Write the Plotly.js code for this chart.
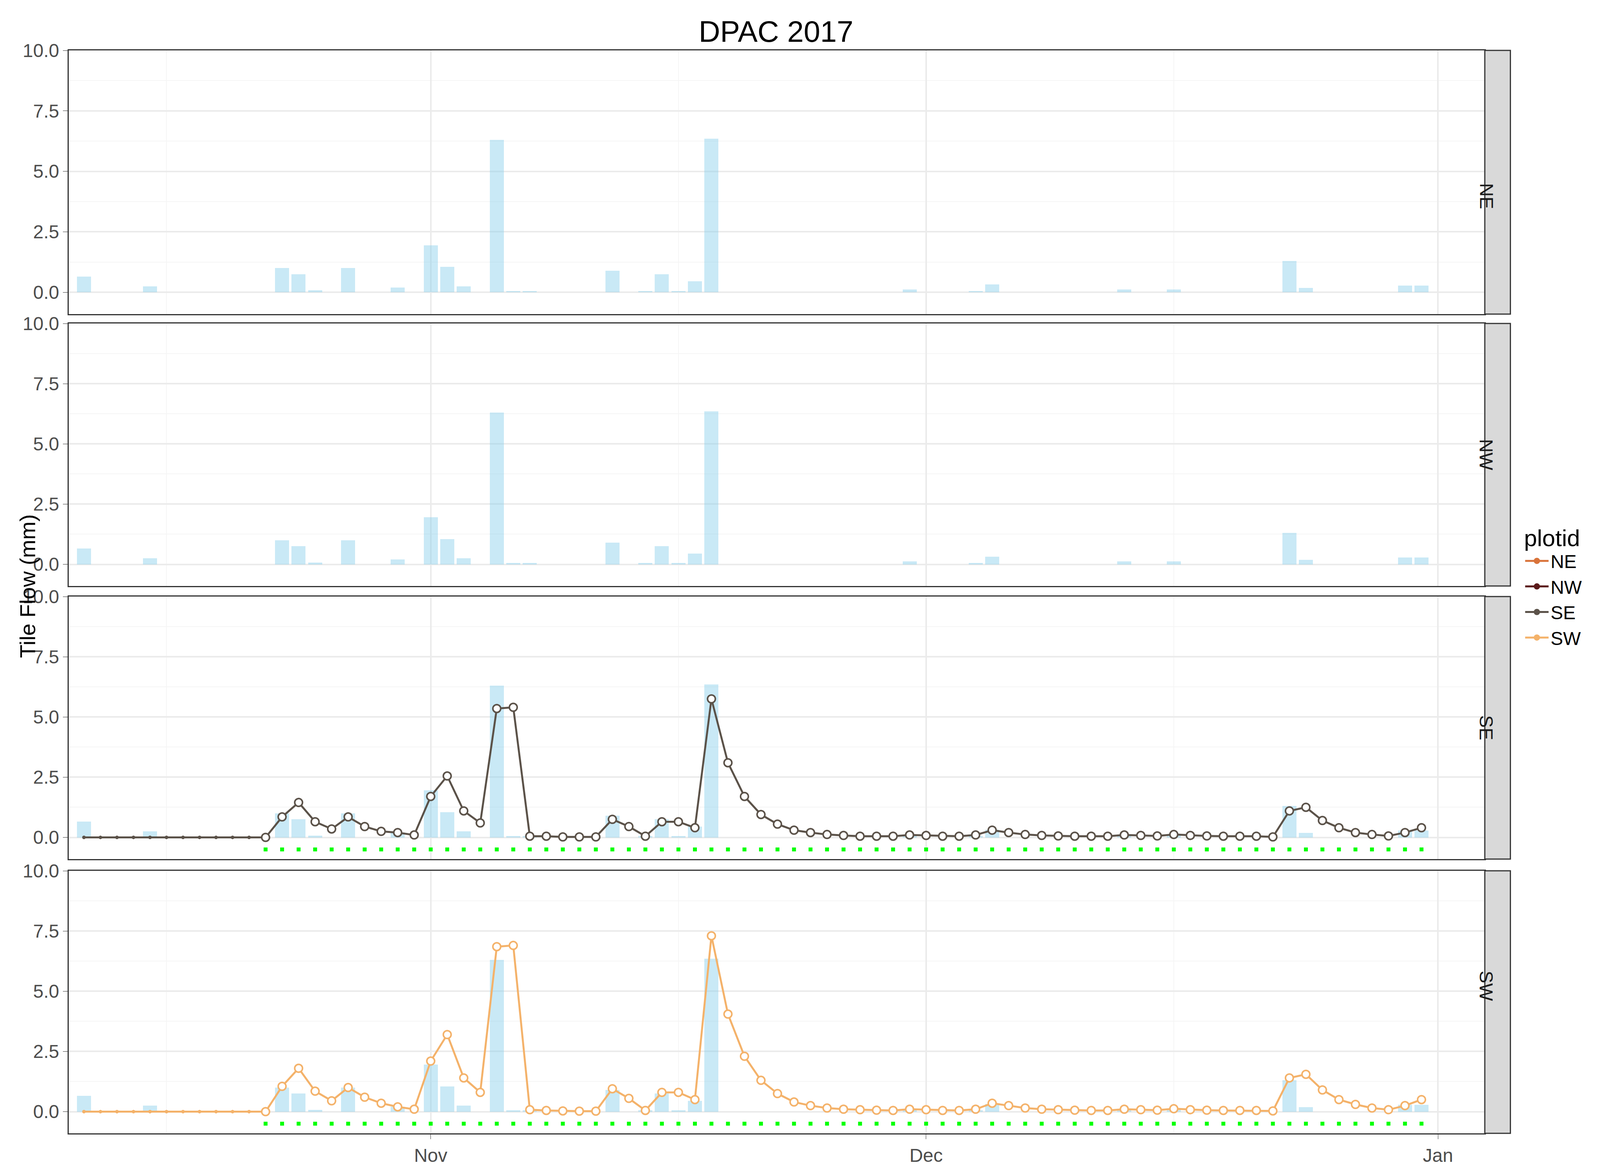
<!DOCTYPE html>
<html>
<head>
<meta charset="utf-8">
<script src="https://cdn.plot.ly/plotly-3.0.1.min.js"></script>
<style>html,body{margin:0;padding:0;overflow:hidden}#chart{width:100vw;height:100vh}</style>
</head>
<body>
<div id="chart"></div>
<script>
// rain bars (mm), same in every panel
const barDates = ["2017-10-11","2017-10-15","2017-10-23","2017-10-24","2017-10-25","2017-10-27","2017-10-30",
  "2017-11-01","2017-11-02","2017-11-03","2017-11-05","2017-11-06","2017-11-07","2017-11-12","2017-11-14",
  "2017-11-15","2017-11-16","2017-11-17","2017-11-18","2017-11-30","2017-12-04","2017-12-05","2017-12-13",
  "2017-12-16","2017-12-23","2017-12-24","2017-12-30","2017-12-31"];
const barValues = [0.65,0.25,1.0,0.75,0.08,1.0,0.2,1.95,1.05,0.25,6.3,0.05,0.05,0.9,0.05,
  0.75,0.05,0.45,6.35,0.12,0.05,0.32,0.12,0.12,1.3,0.18,0.28,0.28];

// daily dates Oct 11 - Dec 31
const days = [];
for (let m of [[10,11,31],[11,1,30],[12,1,31]]) {
  for (let d = m[1]; d <= m[2]; d++) days.push("2017-" + m[0] + "-" + String(d).padStart(2,"0"));
}

const seFlow = [0,0,0,0,0,0,0,0,0,0,0,0,
  0.85,1.45,0.65,0.35,0.85,0.45,0.25,0.2,0.1,
  1.7,2.55,1.1,0.6,5.35,5.4,0.05,0.05,0.02,0.02,0.02,0.75,0.45,0.05,0.65,0.65,0.4,5.75,3.1,1.7,0.95,0.55,0.3,0.2,0.12,0.08,0.05,0.05,0.05,0.1,
  0.08,0.05,0.05,0.1,0.3,0.2,0.12,0.08,0.06,0.05,0.05,0.05,0.1,0.08,0.06,0.12,0.08,0.06,0.05,0.05,0.05,0.02,
  1.1,1.25,0.7,0.4,0.2,0.12,0.06,0.2,0.4];
const swFlow = [0,0,0,0,0,0,0,0,0,0,0,0,
  1.05,1.8,0.85,0.45,1.0,0.6,0.35,0.2,0.1,
  2.1,3.2,1.4,0.8,6.85,6.9,0.08,0.05,0.03,0.02,0.02,0.95,0.55,0.05,0.8,0.8,0.5,7.3,4.05,2.3,1.3,0.75,0.4,0.25,0.15,0.1,0.08,0.06,0.05,0.1,
  0.08,0.05,0.05,0.1,0.35,0.25,0.15,0.1,0.08,0.06,0.05,0.05,0.1,0.08,0.06,0.12,0.08,0.06,0.05,0.05,0.05,0.03,
  1.4,1.55,0.9,0.5,0.3,0.15,0.08,0.25,0.5];
const flaggedStart = 11; // index of Oct 22
const flagDates = days.slice(flaggedStart);

const plotIds = ["NE","NW","SE","SW"];
const plotColors = ["#D9733A","#5A1A1A","#5B5249","#F4B26A"];

const traces = [];
const axes = ["","2","3","4"];
axes.forEach((a, i) => {
  traces.push({
    type: "bar", x: barDates, y: barValues, xaxis: "x" + a, yaxis: "y" + a,
    width: 0.85 * 86400000, marker: { color: "rgba(135,206,235,0.45)" },
    showlegend: false, hoverinfo: "skip"
  });
});

[[seFlow, 2, "3"], [swFlow, 3, "4"]].forEach(([vals, ci, a]) => {
  traces.push({
    x: days, y: vals, xaxis: "x" + a, yaxis: "y" + a, mode: "lines+markers",
    line: { color: plotColors[ci], width: 5 },
    marker: { color: plotColors[ci], size: 9 }, showlegend: false
  });
  traces.push({
    x: flagDates, y: vals.slice(flaggedStart), xaxis: "x" + a, yaxis: "y" + a, mode: "markers",
    marker: { color: "white", size: 20, line: { color: plotColors[ci], width: 4 } }, showlegend: false
  });
  traces.push({
    x: flagDates, y: flagDates.map(() => -0.5), xaxis: "x" + a, yaxis: "y" + a, mode: "markers",
    marker: { color: "#00FF00", size: 10, symbol: "square" }, showlegend: false
  });
});

plotIds.forEach((p, i) => {
  traces.push({
    x: [null], y: [null], mode: "lines+markers", name: p,
    line: { color: plotColors[i], width: 5 }, marker: { color: plotColors[i], size: 18 }
  });
});

const doms = [[0.732,0.957],[0.500,0.724],[0.267,0.491],[0.033,0.257]];
const xrange = ["2017-10-10 02:00","2018-01-03 20:00"];
const layout = {
  width: window.innerWidth, height: window.innerHeight,
  margin: { l: 0, r: 0, t: 0, b: 0 },
  paper_bgcolor: "white", plot_bgcolor: "white",
  font: { family: "Liberation Sans, Arial", size: 48, color: "#4d4d4d" },
  title: { text: "DPAC 2017", x: 0.485, y: 0.982, font: { size: 76, color: "black" } },
  bargap: 0,
  legend: {
    x: 0.952, y: 0.56, xanchor: "left", yanchor: "top",
    title: { text: "plotid", font: { size: 60, color: "black" } },
    font: { size: 48, color: "black" }, itemwidth: 60
  },
  shapes: [], annotations: []
};
axes.forEach((a, i) => {
  layout["xaxis" + a] = {
    domain: [0.043, 0.928], range: xrange, type: "date", anchor: "y" + a,
    tickvals: ["2017-11-01","2017-12-01","2018-01-01"], ticktext: ["Nov","Dec","Jan"],
    showticklabels: i === 3, ticks: i === 3 ? "outside" : "", ticklen: 12, tickcolor: "#333",
    showgrid: true, gridcolor: "#EBEBEB", gridwidth: 4,
    minor: { tickvals: ["2017-10-16","2017-11-16","2017-12-16"], showgrid: true, gridcolor: "#F5F5F5", gridwidth: 2 },
    showline: true, mirror: true, linecolor: "#333", linewidth: 3, zeroline: false,
    tickfont: { size: 48, color: "#4d4d4d" }
  };
  layout["yaxis" + a] = {
    domain: doms[i], range: [-0.9, 10], anchor: "x" + a,
    tickvals: [0, 2.5, 5, 7.5, 10], ticktext: ["0.0","2.5","5.0","7.5","10.0"],
    ticks: "outside", ticklen: 12, tickcolor: "#333",
    showgrid: true, gridcolor: "#EBEBEB", gridwidth: 4,
    minor: { tickvals: [1.25, 3.75, 6.25, 8.75], showgrid: true, gridcolor: "#F5F5F5", gridwidth: 2 },
    showline: true, mirror: true, linecolor: "#333", linewidth: 3, zeroline: false,
    tickfont: { size: 48, color: "#4d4d4d" }
  };
  layout.shapes.push({
    type: "rect", xref: "paper", yref: "paper", x0: 0.928, x1: 0.944, y0: doms[i][0], y1: doms[i][1],
    fillcolor: "#D9D9D9", line: { color: "#333", width: 3 }
  });
  layout.annotations.push({
    xref: "paper", yref: "paper", x: 0.936, y: (doms[i][0] + doms[i][1]) / 2,
    text: plotIds[i], textangle: 90, showarrow: false, font: { size: 48, color: "#1a1a1a" }
  });
});
layout.annotations.push({
  xref: "paper", yref: "paper", x: 0.009, y: 0.5, text: "Tile Flow (mm)", textangle: -90,
  showarrow: false, font: { size: 56, color: "black" }
});

Plotly.newPlot("chart", traces, layout, { staticPlot: true });
</script>
</body>
</html>
